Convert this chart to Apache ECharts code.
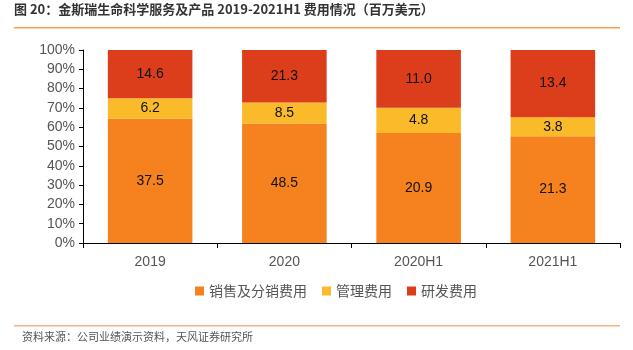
<!DOCTYPE html>
<html>
<head>
<meta charset="utf-8">
<script src="https://cdn.jsdelivr.net/npm/echarts@6/dist/echarts.min.js"></script>
<style>
  html, body { margin: 0; padding: 0; background: #fff; }
  #chart { width: 633px; height: 350px; }
</style>
</head>
<body>
<div id="chart"></div>
<script>
const categories = ['2019', '2020', '2020H1', '2021H1'];
const sales = [37.5, 48.5, 20.9, 21.3];
const admin = [6.2, 8.5, 4.8, 3.8];
const rnd = [14.6, 21.3, 11.0, 13.4];
const seriesNames = ['销售及分销费用', '管理费用', '研发费用'];
const colors = ['#F5821F', '#FBBA2A', '#DC3D1A'];

let chart = echarts.init(document.getElementById('chart'), null, { renderer: 'canvas' });

// 百分比堆叠
function toPct(arr, i) {
  let total = sales[i] + admin[i] + rnd[i];
  return arr[i] / total * 100;
}

function makeSeries(name, arr, color) {
  return {
    name: name,
    type: 'bar',
    stack: 'total',
    barWidth: '63%',
    itemStyle: { color: color },
    label: {
      show: true,
      position: 'inside',
      color: '#111',
      fontSize: 14,
      fontFamily: 'Liberation Sans, Arial',
      formatter: function (p) {
        return arr[p.dataIndex].toFixed(1);
      }
    },
    data: arr.map(function (v, i) { return toPct(arr, i); })
  };
}

let option = {
  animation: false,
  color: colors,
  textStyle: { fontFamily: 'Liberation Sans, Noto Sans CJK SC' },
  grid: { left: 83, right: 13, top: 50, bottom: 107 },
  legend: {
    bottom: 47,
    left: 190,
    itemWidth: 9,
    itemHeight: 9,
    itemGap: 15,
    icon: 'rect',
    textStyle: { fontSize: 14, color: '#555', fontFamily: 'Noto Sans CJK SC' },
    data: seriesNames
  },
  xAxis: {
    type: 'category',
    data: categories,
    axisLine: { lineStyle: { color: '#000', width: 1 } },
    axisTick: { show: true, length: 5, lineStyle: { color: '#000' } },
    axisLabel: { color: '#555', fontSize: 14, margin: 12 }
  },
  yAxis: {
    type: 'value',
    min: 0,
    max: 100,
    interval: 10,
    axisLine: { show: true, lineStyle: { color: '#000', width: 1 } },
    axisTick: { show: true, length: 4, lineStyle: { color: '#000' } },
    splitLine: { show: false },
    axisLabel: { color: '#555', fontSize: 14, margin: 8, formatter: '{value}%' }
  },
  graphic: [
    {
      type: 'text', left: 14, top: 3,
      style: {
        text: '图 20：金斯瑞生命科学服务及产品 2019-2021H1 费用情况（百万美元）',
        fill: '#333', font: 'bold 13px "Noto Sans CJK SC"'
      }
    },
    { type: 'rect', shape: { x: 14, y: 27, width: 606, height: 1.5 }, style: { fill: '#F5A04A' } },
    { type: 'rect', shape: { x: 14, y: 325, width: 606, height: 1.5 }, style: { fill: '#F8B27A' } },
    {
      type: 'text', left: 22, top: 331,
      style: {
        text: '资料来源：公司业绩演示资料，天风证券研究所',
        fill: '#555', font: '11px "Noto Sans CJK SC"'
      }
    }
  ],
  series: [
    makeSeries(seriesNames[0], sales, colors[0]),
    makeSeries(seriesNames[1], admin, colors[1]),
    makeSeries(seriesNames[2], rnd, colors[2])
  ]
};

chart.setOption(option);
</script>
</body>
</html>
